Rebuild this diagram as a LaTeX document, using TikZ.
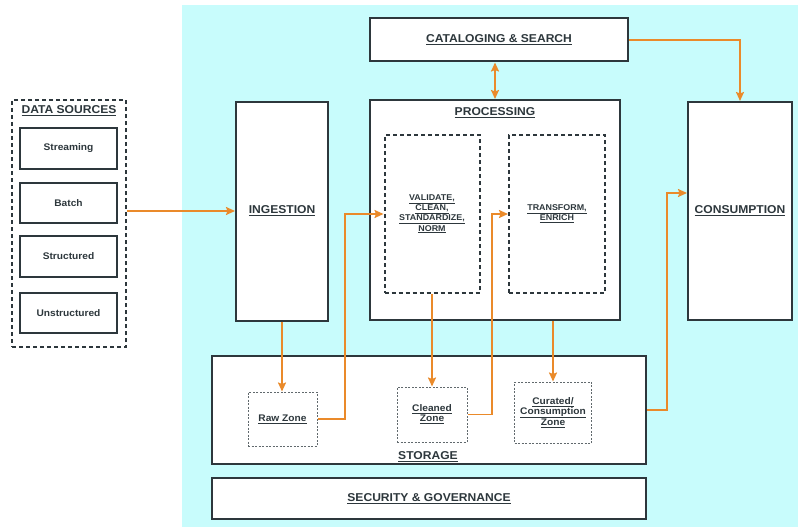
\documentclass[tikz,border=0pt]{standalone}
\usepackage{fontspec}
\setmainfont{Liberation Sans}[FakeStretch=1.06]
\usetikzlibrary{arrows.meta}
\definecolor{bgcyan}{RGB}{200,252,252}
\definecolor{arr}{RGB}{234,138,42}
\definecolor{bord}{RGB}{45,55,60}
\newcommand{\ulx}[1]{\underline{#1}}
\begin{document}
\begin{tikzpicture}[x=1pt,y=-1pt,
  box/.style={draw=bord, line width=2pt, fill=white, rectangle, inner sep=0pt},
  dbox/.style={draw=bord, line width=2pt, dash pattern=on 4pt off 3pt, fill=white, rectangle, inner sep=0pt},
  zbox/.style={draw=bord!75, line width=1pt, dash pattern=on 2pt off 1.5pt, fill=white, rectangle, inner sep=0pt},
  ttl/.style={font=\bfseries\fontsize{11.4}{13}\selectfont, align=center, text=bord},
  sml/.style={font=\bfseries\fontsize{9.6}{10}\selectfont, align=center, text=bord},
  tny/.style={font=\bfseries\fontsize{8.4}{8.6}\selectfont, align=center, text=bord},
  conn/.style={draw=arr, line width=1.8pt, -{Stealth[length=9pt,width=8pt,inset=1.5pt]}},
  conn2/.style={draw=arr, line width=1.8pt, {Stealth[length=9pt,width=8pt,inset=1.5pt]}-{Stealth[length=9pt,width=8pt,inset=1.5pt]}},
]
\useasboundingbox (0,0) rectangle (798,527);
\fill[white] (0,0) rectangle (798,527);
\fill[bgcyan] (182,5) rectangle (798,527);

% data sources
\node[dbox, minimum width=114pt, minimum height=247pt] (ds) at (69,223.5) {};
\node[ttl] (dst) at (69,111) {\ulx{DATA SOURCES}};
\node[box, sml, minimum width=97pt, minimum height=41pt] (str) at (68.5,148.5) {Streaming};
\node[box, sml, minimum width=97pt, minimum height=40pt] (bat) at (68.5,203) {Batch};
\node[box, sml, minimum width=97pt, minimum height=41pt] (stc) at (68.5,256.5) {Structured};
\node[box, sml, minimum width=97pt, minimum height=40pt] (uns) at (68.5,313) {Unstructured};

% ingestion
\node[box, ttl, minimum width=92pt, minimum height=219pt] (ing) at (282,211) {\ulx{INGESTION}};

% cataloging
\node[box, ttl, minimum width=258pt, minimum height=43pt] (cat) at (499,40) {\ulx{CATALOGING \& SEARCH}};

% processing
\node[box, minimum width=250pt, minimum height=220pt] (proc) at (495,210) {};
\node[ttl] (proct) at (495,113) {\ulx{PROCESSING}};
\node[dbox, tny, minimum width=95pt, minimum height=158pt] (val) at (432,214) {\ulx{VALIDATE,}\\\ulx{CLEAN,}\\\ulx{STANDARDIZE,}\\\ulx{NORM}};
\node[dbox, tny, minimum width=96pt, minimum height=158pt] (trf) at (557,214) {\ulx{TRANSFORM,}\\\ulx{ENRICH}};

% consumption
\node[box, ttl, minimum width=104pt, minimum height=218pt] (cons) at (740,211) {\ulx{CONSUMPTION}};

% storage
\node[box, minimum width=434pt, minimum height=108pt] (stor) at (429,410) {};
\node[ttl] (stort) at (428,457) {\ulx{STORAGE}};
\node[zbox, sml, minimum width=69pt, minimum height=54pt] (raw) at (282.5,419) {\ulx{Raw Zone}};
\node[zbox, sml, minimum width=70pt, minimum height=55pt] (cln) at (432,414.5) {\ulx{Cleaned}\\\ulx{Zone}};
\node[zbox, sml, minimum width=77pt, minimum height=61pt] (cur) at (553,412.5) {\ulx{Curated/}\\\ulx{Consumption}\\\ulx{Zone}};

% security
\node[box, ttl, minimum width=434pt, minimum height=41pt] (sec) at (429,498.5) {\ulx{SECURITY \& GOVERNANCE}};

% helper coordinates
\coordinate (k1) at (345,0);
\coordinate (k2) at (492,0);
\coordinate (k3) at (667,193);

% connectors
\draw[conn] (ds.east |- ing.west) -- (ing.west);
\draw[conn2] (proc.north) -- (proc.north |- cat.south);
\draw[conn] (cat.east) -| (cons.north);
\draw[conn] (ing.south) -- (ing.south |- raw.north);
\draw[conn] (raw.east) -| (k1 |- val.west) -- (val.west);
\draw[conn] (val.south) -- (val.south |- cln.north);
\draw[conn] (cln.east) -| (k2 |- trf.west) -- (trf.west);
\draw[conn] (cur.north |- proc.south) -- (cur.north);
\draw[conn] (stor.east) -| (k3) -- (cons.west |- k3);
\end{tikzpicture}
\end{document}
